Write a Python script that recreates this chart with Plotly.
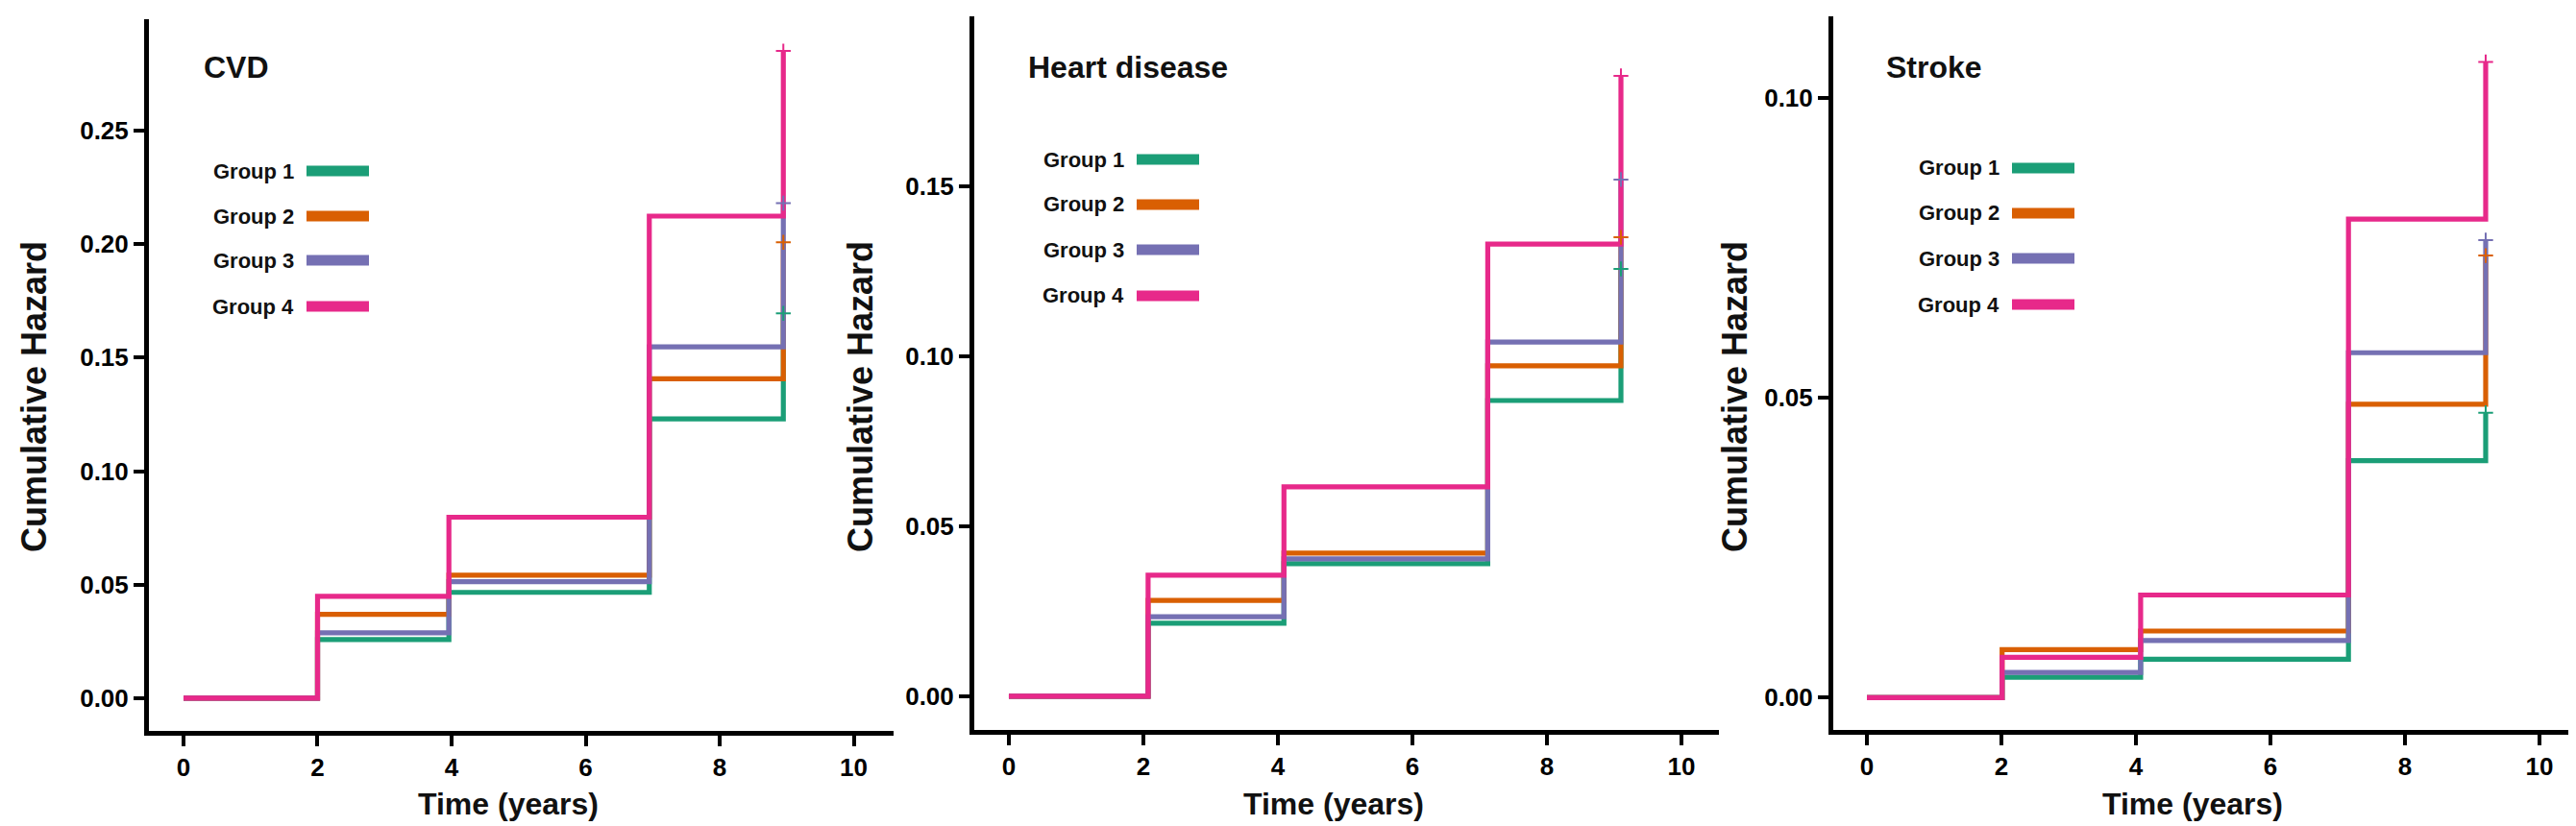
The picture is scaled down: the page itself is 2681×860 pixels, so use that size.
import plotly.graph_objects as go

# figure size in pixels
W, H = 2681, 860

groups = ["Group 1", "Group 2", "Group 3", "Group 4"]
colors = ["#1b9e77", "#d95f02", "#7570b3", "#e7298a"]

panel_titles = ["CVD", "Heart disease", "Stroke"]

# event times for each panel (years)
cvd_time = [0, 2.0, 3.96, 6.95, 8.95]
heart_time = [0, 2.07, 4.09, 7.12, 9.1]
stroke_time = [0, 2.01, 4.07, 7.16, 9.2]

# cumulative hazard
cvd_g1 = [0, 0.0258, 0.0466, 0.123, 0.1695]
cvd_g2 = [0, 0.0369, 0.0542, 0.1407, 0.2008]
cvd_g3 = [0, 0.0288, 0.0513, 0.1547, 0.218]
cvd_g4 = [0, 0.0449, 0.0797, 0.2123, 0.285]

heart_g1 = [0, 0.0215, 0.039, 0.087, 0.1257]
heart_g2 = [0, 0.0282, 0.0421, 0.0972, 0.135]
heart_g3 = [0, 0.0234, 0.0404, 0.1042, 0.152]
heart_g4 = [0, 0.0356, 0.0616, 0.133, 0.1825]

stroke_g1 = [0, 0.0034, 0.0064, 0.0395, 0.0475]
stroke_g2 = [0, 0.0080, 0.0111, 0.0489, 0.0737]
stroke_g3 = [0, 0.0042, 0.0095, 0.0575, 0.0763]
stroke_g4 = [0, 0.0067, 0.0171, 0.0798, 0.106]

cvd_ticks = [0, 0.05, 0.10, 0.15, 0.20, 0.25]
heart_ticks = [0, 0.05, 0.10, 0.15]
stroke_ticks = [0, 0.05, 0.10]
x_ticks = [0, 2, 4, 6, 8, 10]

panels = [
    (cvd_time, [cvd_g1, cvd_g2, cvd_g3, cvd_g4], cvd_ticks),
    (heart_time, [heart_g1, heart_g2, heart_g3, heart_g4], heart_ticks),
    (stroke_time, [stroke_g1, stroke_g2, stroke_g3, stroke_g4], stroke_ticks),
]

# layout in pixels: axis left/right, top/bottom, ranges
boxes = [
    dict(left=147, right=922, top=12, bottom=753, xr=[-0.516, 10.595], yr=[-0.0144, 0.299]),
    dict(left=1006, right=1781, top=9, bottom=752, xr=[-0.514, 10.557], yr=[-0.0099, 0.200]),
    dict(left=1900, right=2677, top=9, bottom=752, xr=[-0.5, 10.6], yr=[-0.0054, 0.1136]),
]
legend_y = [[170, 217, 263, 311], [158, 205, 252, 300], [167, 214, 261, 309]]
legend_x = [311, 1175, 2086]
title_x = [202, 1060, 1953]
ytitle_x = [28, 888, 1798]

FONT = "Arial, Liberation Sans, sans-serif"


def px(x):
    return x / W


def py(y):
    return 1 - y / H


fig = go.Figure()
annotations = []
shapes = []

for p, (times, series, yticks) in enumerate(panels):
    n = "" if p == 0 else str(p + 1)
    b = boxes[p]
    for g, vals in enumerate(series):
        fig.add_trace(go.Scatter(
            x=times, y=vals, mode="lines", line_shape="hv",
            line=dict(color=colors[g], width=5.2),
            xaxis="x" + n, yaxis="y" + n, showlegend=False, name=groups[g]))
    for g, vals in enumerate(series):
        # censor mark at the end of each curve
        fig.add_trace(go.Scatter(
            x=[times[-1]], y=[vals[-1]], mode="markers",
            marker=dict(symbol="cross-thin", size=11, line=dict(color=colors[g], width=2)),
            xaxis="x" + n, yaxis="y" + n, showlegend=False, hoverinfo="skip"))

    axis_common = dict(showline=True, linewidth=5, linecolor="black", ticks="outside",
                       ticklen=11, tickwidth=4, tickcolor="black", showgrid=False,
                       zeroline=False,
                       tickfont=dict(family=FONT, size=26, color="black", weight="bold"))
    fig.update_layout(**{
        "xaxis" + n: dict(domain=[px(b["left"]), px(b["right"])], range=b["xr"],
                          tickvals=x_ticks, anchor="y" + n, **axis_common),
        "yaxis" + n: dict(domain=[py(b["bottom"]), py(b["top"])], range=b["yr"],
                          tickvals=yticks, tickformat=".2f", anchor="x" + n, **axis_common),
    })

    annotations.append(dict(text=panel_titles[p], x=px(title_x[p]), y=py(62), xref="paper", yref="paper",
                            xanchor="left", yanchor="middle", showarrow=False,
                            font=dict(family=FONT, size=32, color="#111111", weight="bold")))
    annotations.append(dict(text="Cumulative Hazard", x=px(ytitle_x[p]), y=py(405), xref="paper",
                            yref="paper", textangle=-90, xanchor="center", yanchor="middle",
                            showarrow=False,
                            font=dict(family=FONT, size=36, color="#111111", weight="bold")))
    annotations.append(dict(text="Time (years)", x=px(b["left"] + 374), y=py(829), xref="paper",
                            yref="paper", xanchor="center", yanchor="middle", showarrow=False,
                            font=dict(family=FONT, size=32, color="#111111", weight="bold")))

    for g in range(4):
        ly = legend_y[p][g]
        annotations.append(dict(text=groups[g], x=px(legend_x[p] - 11), y=py(ly), xref="paper",
                                yref="paper", xanchor="right", yanchor="middle", showarrow=False,
                                font=dict(family=FONT, size=22, color="#111111", weight="bold")))
        shapes.append(dict(type="line", xref="paper", yref="paper",
                           x0=px(legend_x[p]), x1=px(legend_x[p] + 65), y0=py(ly), y1=py(ly),
                           line=dict(color=colors[g], width=11)))

fig.update_layout(width=W, height=H, margin=dict(l=0, r=0, t=0, b=0),
                  paper_bgcolor="white", plot_bgcolor="white",
                  annotations=annotations, shapes=shapes, showlegend=False)

fig.write_html("out.html")
